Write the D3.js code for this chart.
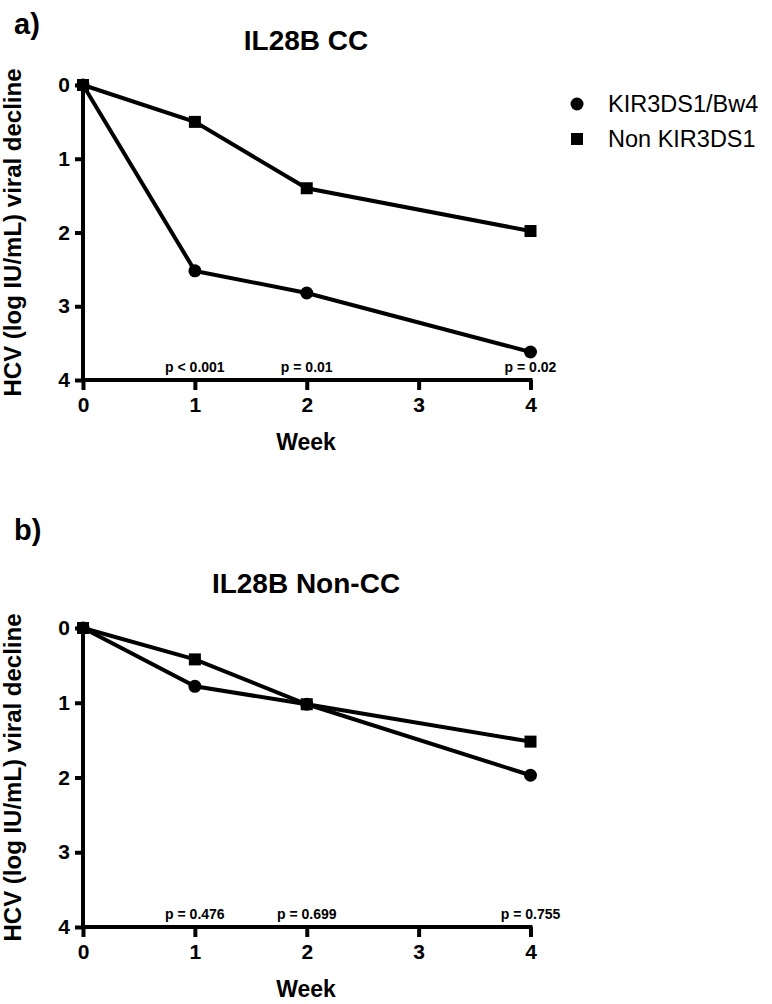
<!DOCTYPE html>
<html>
<head>
<meta charset="utf-8">
<script src="https://cdn.jsdelivr.net/npm/d3@7"></script>
<style>
  html, body { margin: 0; padding: 0; background: #fff; }
  svg { display: block; font-family: "Liberation Sans", Arial, sans-serif; }
</style>
</head>
<body>
<svg id="chart" width="772" height="1004"></svg>
<script>
// ---- data ----
const weeks = [0, 1, 2, 4];
const xTickValues = [0, 1, 2, 3, 4];
const yTickValues = [0, 1, 2, 3, 4];
const seriesNames = ["KIR3DS1/Bw4", "Non KIR3DS1"];
const ccKIR = [0, 2.52, 2.82, 3.62];
const ccNon = [0, 0.50, 1.40, 1.98];
const nonCcKIR = [0, 0.78, 1.02, 1.97];
const nonCcNon = [0, 0.42, 1.02, 1.52];
const pWeeks = [1, 2, 4];
const ccPLabels = ["p < 0.001", "p = 0.01", "p = 0.02"];
const nonCcPLabels = ["p = 0.476", "p = 0.699", "p = 0.755"];
const panelLetters = ["a)", "b)"];
const panelTitles = ["IL28B CC", "IL28B Non-CC"];
const xTitle = "Week";
const yTitle = "HCV (log IU/mL) viral decline";

const svg = d3.select("#chart");

function drawPanel(cfg) {
  const g = svg.append("g");
  const x = d3.scaleLinear().domain([0, 4]).range([83, 530.5]);
  const y = d3.scaleLinear().domain([0, 4]).range([cfg.top, cfg.bottom]);

  // panel letter & title
  g.append("text").attr("x", 14).attr("y", cfg.letterY)
    .attr("font-size", 29).attr("font-weight", "bold").text(cfg.letter);
  g.append("text").attr("x", 306).attr("y", cfg.top - 35)
    .attr("text-anchor", "middle").attr("font-size", 28).attr("font-weight", "bold").text(cfg.title);

  // y axis
  const yAxis = d3.axisLeft(y).tickValues(yTickValues).tickSize(8).tickSizeOuter(0).tickPadding(5)
    .tickFormat(d3.format("d"));
  const ya = g.append("g").attr("transform", "translate(83,0)").call(yAxis);
  // x axis
  const xAxis = d3.axisBottom(x).tickValues(xTickValues).tickSize(10).tickSizeOuter(0).tickPadding(7)
    .tickFormat(d3.format("d"));
  const xa = g.append("g").attr("transform", `translate(0,${cfg.bottom})`).call(xAxis);
  [ya, xa].forEach(a => {
    a.select(".domain").attr("stroke", "#000").attr("stroke-width", 4);
    a.selectAll(".tick line").attr("stroke", "#000").attr("stroke-width", 4);
    a.selectAll(".tick text").attr("fill", "#000").attr("font-size", 21).attr("font-weight", "bold")
      .attr("font-family", "Liberation Sans, Arial, sans-serif");
  });
  // extend domains to cover the corner
  ya.select(".domain").attr("d", `M0,${cfg.top - 2}V${cfg.bottom + 2}`);
  xa.select(".domain").attr("d", `M-2,0H${530.5 - 83 + 2}`).attr("transform", "translate(83,0)");

  // axis titles
  g.append("text").attr("x", 306).attr("y", cfg.bottom + 70)
    .attr("text-anchor", "middle").attr("font-size", 23).attr("font-weight", "bold").text(xTitle);
  g.append("text").attr("transform", `translate(21,${(cfg.top + cfg.bottom) / 2}) rotate(-90)`)
    .attr("text-anchor", "middle").attr("font-size", 24).attr("font-weight", "bold").text(yTitle);

  // p-values
  g.selectAll(".pval").data(pWeeks).enter().append("text")
    .attr("x", d => x(d)).attr("y", cfg.bottom - 8)
    .attr("text-anchor", "middle").attr("font-size", 14).attr("font-weight", "bold")
    .text((d, i) => cfg.pLabels[i]);

  const line = d3.line().x((d, i) => x(weeks[i])).y(d => y(d));
  // KIR (circles) and Non (squares)
  g.append("path").datum(cfg.kir).attr("d", line).attr("fill", "none").attr("stroke", "#000").attr("stroke-width", 4);
  g.append("path").datum(cfg.non).attr("d", line).attr("fill", "none").attr("stroke", "#000").attr("stroke-width", 4);
  g.selectAll(".c").data(cfg.kir).enter().append("circle")
    .attr("cx", (d, i) => x(weeks[i])).attr("cy", d => y(d)).attr("r", 6.5).attr("fill", "#000");
  g.selectAll(".s").data(cfg.non).enter().append("rect")
    .attr("x", (d, i) => x(weeks[i]) - 6).attr("y", d => y(d) - 6)
    .attr("width", 12).attr("height", 12).attr("fill", "#000");

  if (cfg.legend) {
    const lg = g.append("g");
    const ly = [104, 139];
    lg.append("circle").attr("cx", 577).attr("cy", ly[0]).attr("r", 6.5).attr("fill", "#000");
    lg.append("rect").attr("x", 571).attr("y", ly[1] - 6).attr("width", 12).attr("height", 12).attr("fill", "#000");
    lg.selectAll("text").data(seriesNames).enter().append("text")
      .attr("x", 608).attr("y", (d, i) => ly[i] + 8).attr("font-size", 23.5).text(d => d);
  }
}

drawPanel({ letter: panelLetters[0], letterY: 34, title: panelTitles[0], top: 85, bottom: 380,
  kir: ccKIR, non: ccNon, pLabels: ccPLabels, legend: true });
drawPanel({ letter: panelLetters[1], letterY: 540, title: panelTitles[1], top: 628, bottom: 927,
  kir: nonCcKIR, non: nonCcNon, pLabels: nonCcPLabels, legend: false });
</script>
</body>
</html>
